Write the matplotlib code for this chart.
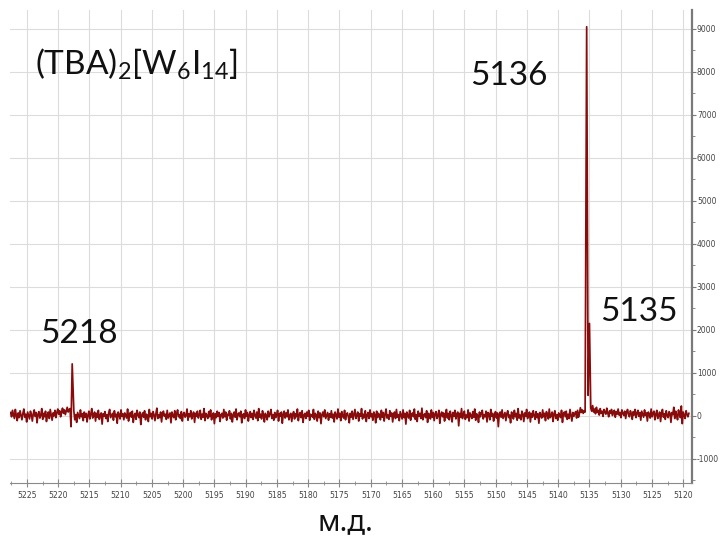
"""
1H ЯМР спектр (TBA)2[W6I14]: шум базовой линии + три сигнала.
"""
import numpy as np
import matplotlib
matplotlib.use('Agg')
import matplotlib.pyplot as plt
import matplotlib.ticker as mticker

plt.rcParams['axes.unicode_minus'] = False

# --- data ---------------------------------------------------------------
ppm_start, ppm_end = 5227.6, 5119.1

# baseline noise, read left (5227.6) -> right (5119.1)
noise = [
    80, -20, 130, 40, -60, 150, 10, -110, 70, -40, 120, 20, -90, 60, 160, -30, 40, -140, 90, 10,
    -70, 110, 30, -120, 50, 140, -10, 80, -160, 40, 100, -50, 20, 170, -80, 60, -20, 110, -130, 30,
    90, -60, 150, 20, -100, 70, 0, 130, -40, 80, 160, 40, 120, -20, 90, 180, 60, 140, 30, 110,
    200, 90, 150, 170, -250, 60, -190, 120, -90, 30, -150, 80, 10, -60, 140, -20, 50, -110, 90, -30,
    60, -140, 20, 110, -70, 40, 170, -50, 10, 90, -120, 60, -30, 130, -80, 20, 70, -190, 50, -10,
    100, -60, 30, -130, 80, 150, -40, 10, 60, -100, 120, -20, 40, -170, 90, 30, -70, 140, -10, 50,
    -90, 70, 20, -50, 160, -120, 40, 80, -30, 110, -150, 10, 60, -80, 130, 30, -40, 90, -200, 20,
    70, -30, 120, -90, 40, 10, -130, 150, -20, 60, -70, 100, 30, -110, 50, 180, -60, 20, -40, 90,
    -140, 60, 110, -10, 40, -80, 130, -50, 20, 70, -160, 90, 10, -40, 120, -90, 50, 140, -20, 30,
    -60, 100, -120, 40, 80, -30, 10, 160, -100, 50, -20, 120, -70, 30, 90, -150, 60, -10, 110, -50,
    20, 130, -80, 40, -30, 170, -110, 60, 10, -60, 100, -20, 140, -90, 30, 70, -180, 50, -40, 110,
    -10, 80, -130, 30, 60, -50, 150, -20, 90, -100, 40, 10, 120, -70, 60, -140, 20, 90, -30, 160,
    -90, 40, 70, -20, 110, -160, 30, 50, -60, 140, -10, 80, -120, 20, 100, -40, 60, -80, 130, 10,
    -50, 90, -110, 170, -30, 40, -70, 120, 20, -140, 60, 10, -90, 110, -20, 50, 150, -60, 30, -100,
    80, -40, 20, 130, -120, 60, -10, 90, -170, 40, 110, -50, 70, -20, 140, -90, 10, 60, -130, 30,
    100, -70, 50, -20, 160, -110, 30, 80, -40, 120, -150, 20, 60, -60, 90, -10, 130, -100, 40, 10,
    -30, 150, -80, 60, 20, -120, 110, -40, 70, -180, 30, 90, -20, 140, -60, 10, 80, -100, 50, -30,
    120, -50, 40, -140, 90, 20, -70, 160, -30, 60, -110, 100, 10, -50, 130, -90, 40, 70, -20, -160,
    60, -30, 110, -80, 30, 150, -60, 20, 90, -120, 50, -10, 170, -70, 40, -40, 120, -130, 20, 80,
    -60, 140, -20, 50, -100, 90, 30, -160, 110, -40, 60, 10, -90, 130, -30, 80, -120, 40, 160, -50,
    20, -80, 120, -10, 70, -140, 40, 90, -60, 150, -30, 30, -110, 100, 20, -70, 140, -40, 60, -190,
    90, 10, -50, 130, -100, 40, 70, -20, 160, -80, 30, -130, 110, -10, 60, -60, 180, -90, 20, 50,
    -40, 120, -150, 60, 20, -70, 140, -30, 80, -110, 50, 100, -60, 10, 130, -170, 40, 90, -20, 70,
    -120, 30, 150, -50, 60, -90, 110, 20, -140, 80, -10, 130, -70, 40, 90, -230, 60, -30, 170, -60,
    40, 110, -80, 20, -40, 140, -120, 70, 10, -60, 100, -30, 160, -100, 50, 20, -150, 90, -20, 60,
    130, -70, 30, -20, 110, -140, 80, 40, -90, 150, -10, 60, -120, 20, 100, -50, 70, -250, 40, 90,
    -30, 140, -60, 10, 80, -110, 50, 120, -40, 20, -160, 90, 30, -70, 130, -20, 60, -100, 170, -50,
    20, -90, 110, 40, -130, 70, -10, 150, -60, 30, 90, -140, 60, -30, 120, 10, -80, 100, -40, 50,
    -170, 80, 20, -50, 140, -20, 60, -110, 100, 30, -70, 160, -40, 10, 90, -130, 50, 120, -60, 30,
    -100, 70, 10, -40, 130, -150, 60, 90, -20, 110, -80, 40, -60, 150, 20, -120, 80, -10, 50, 100,
    -50, 130, -30, 60, 190, 80, 140, 60, 120, 90, 260, 150, 310, 120, 220, 180, 110, 240, 90, 160,
    50, 200, 80, 130, 20, 170, 60, 110, -10, 150, 90, 40, 180, 70, -20, 120, 60, 150, 10, 90,
    130, -30, 100, 40, 160, 20, 80, -40, 140, 60, 10, 110, -60, 90, 150, 30, -20, 120, 50, -80,
    100, 20, 150, -40, 60, 130, -10, 80, -100, 110, 40, -30, 140, 10, 70, -120, 90, 30, -50, 160,
    -20, 60, 110, -90, 40, 130, -60, 20, 90, -130, 70, 150, -30, 50, -80, 120, 10, -40, 100, 60,
    -150, 80, 30, 200, -60, 110, 20, -90, 140, 40, -40, 230, -180, 90, 20, -60, 120, 40, -20, 60,
]

# signals (peak tops and the dip between the 5136/5135 pair)
signal_ppm = [5217.75, 5135.45, 5135.22, 5135.0]
signal_int = [1210, 9050, 480, 2150]

labels = ['5218', '5136', '5135']
label_pos = [(5222.9, 1700), (5154.1, 7700), (5133.3, 2200)]

# --- merge ---------------------------------------------------------------
noise_ppm = np.linspace(ppm_start, ppm_end, len(noise))
noise = np.array(noise, dtype=float)
keep = np.ones(len(noise_ppm), dtype=bool)
for p in signal_ppm:
    keep &= np.abs(noise_ppm - p) > 0.15
ppm = np.concatenate([noise_ppm[keep], signal_ppm])
inten = np.concatenate([noise[keep], signal_int])
order = np.argsort(ppm)
ppm, inten = ppm[order], inten[order]

# --- plot ----------------------------------------------------------------
fig = plt.figure(figsize=(7.2, 5.37), dpi=100)
ax = fig.add_axes([10/720, 1 - 483/537, 682/720, 473/537])

ax.plot(ppm, inten, color='#8b0b0b', linewidth=1.25)

ax.set_xlim(5227.7, 5118.6)
ax.set_ylim(-1560, 9440)

ax.xaxis.set_major_locator(mticker.MultipleLocator(5))
ax.xaxis.set_minor_locator(mticker.MultipleLocator(2.5))
ax.yaxis.set_major_locator(mticker.MultipleLocator(1000))
ax.yaxis.set_minor_locator(mticker.MultipleLocator(500))
ax.yaxis.tick_right()

ax.grid(True, which='major', color='#dcdcdc', linewidth=0.8)
ax.set_axisbelow(True)

for s in ['left', 'top']:
    ax.spines[s].set_visible(False)
ax.spines['bottom'].set_color('#8a8a8a')
ax.spines['right'].set_color('#7a7a7a')
ax.spines['right'].set_linewidth(1.6)

ax.tick_params(axis='x', which='major', direction='inout', length=6, width=0.8,
               color='#8a8a8a', labelsize=5.6, labelcolor='#444444', pad=3)
ax.tick_params(axis='x', which='minor', direction='inout', length=3, width=0.6, color='#8a8a8a')
ax.tick_params(axis='y', which='major', direction='out', length=3, width=0.8,
               color='#7a7a7a', labelsize=5.5, labelcolor='#444444', pad=0.5)
ax.tick_params(axis='y', which='minor', direction='out', length=2, width=0.6, color='#7a7a7a')

big = ['Lato', 'Noto Sans', 'DejaVu Sans']
for txt, (x, y) in zip(labels, label_pos):
    ax.text(x, y, txt, fontsize=24, family=big, color='#111111')

ax.text(0.037, 0.865, r'(TBA)$_\mathregular{2}$[W$_\mathregular{6}$I$_\mathregular{14}$]',
        transform=ax.transAxes, fontsize=24, family=big, color='#111111')

fig.text(345/720, 1 - 530/537, 'м.д.', fontsize=21, family=['Noto Sans', 'DejaVu Sans'],
         ha='center', va='baseline', color='#111111')

fig.savefig('out.png', dpi=100)
plt.close(fig)
